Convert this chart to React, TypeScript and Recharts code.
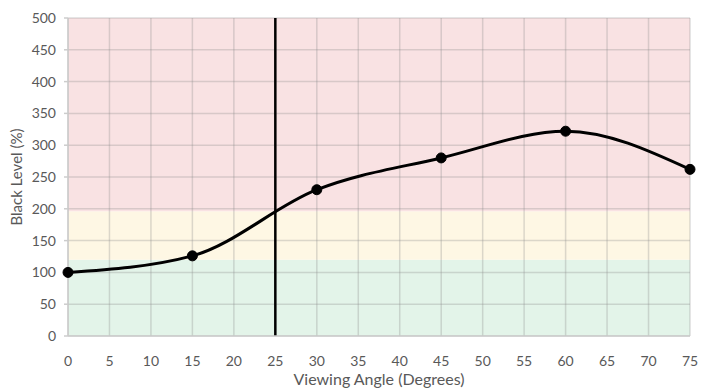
import React from 'react';
import { ComposedChart, Line, XAxis, YAxis, ReferenceArea, ReferenceLine, Label } from 'recharts';

const angles = [0, 15, 30, 45, 60, 75];
const blackLevel = [100, 126, 230, 280, 322, 262];
const xTicks = [0, 5, 10, 15, 20, 25, 30, 35, 40, 45, 50, 55, 60, 65, 70, 75];
const yTicks = [0, 50, 100, 150, 200, 250, 300, 350, 400, 450, 500];
const bands = [
  { from: 0, to: 120, color: '#e3f4e9' },
  { from: 120, to: 196, color: '#fef7e4' },
  { from: 196, to: 500, color: '#f9e2e3' },
];
const markerAngle = 25;

const data = angles.map((a, i) => ({ angle: a, value: blackLevel[i] }));

const font = 'Lato, "Open Sans", sans-serif';
const textColor = '#595959';
const gridColor = '#8c8c8c';
const gridOpacity = 0.3;

export default function App() {
  return (
    <div style={{ position: 'absolute', left: 0, top: 0, width: 717, height: 390, background: '#fff' }}>
      <ComposedChart width={717} height={390} data={data} margin={{ top: 18, right: 27, bottom: 0, left: 0 }}>
        {bands.map((b) => (
          <ReferenceArea key={b.from} y1={b.from} y2={b.to} fill={b.color} fillOpacity={1} stroke="none" ifOverflow="hidden" />
        ))}
        {xTicks.map((t) => (
          <ReferenceLine key={'vx' + t} x={t} stroke={gridColor} strokeOpacity={gridOpacity} strokeWidth={1.5} />
        ))}
        {yTicks.map((t) => (
          <ReferenceLine key={'hy' + t} y={t} stroke={gridColor} strokeOpacity={gridOpacity} strokeWidth={1.5} />
        ))}
        <XAxis
          xAxisId="top"
          orientation="top"
          dataKey="angle"
          type="number"
          domain={[0, 75]}
          ticks={xTicks}
          height={0}
          tickSize={4}
          axisLine={false}
          tickLine={{ stroke: '#d2d2d2', strokeWidth: 1.5 }}
          tickFormatter={() => ''}
        />
        <XAxis
          dataKey="angle"
          type="number"
          domain={[0, 75]}
          ticks={xTicks}
          tickSize={0}
          tickMargin={20}
          height={54}
          axisLine={{ stroke: '#cccccc', strokeWidth: 1.5 }}
          tick={{ fill: textColor, fontSize: 14, fontFamily: font }}
        >
          <Label value="Viewing Angle (Degrees)" position="insideBottom" offset={5} fill={textColor} fontSize={16} fontFamily={font} />
        </XAxis>
        <YAxis
          type="number"
          domain={[0, 500]}
          ticks={yTicks}
          width={68}
          tickSize={4}
          tickMargin={8}
          axisLine={{ stroke: '#cccccc', strokeWidth: 1.5 }}
          tickLine={{ stroke: '#cccccc', strokeWidth: 1.5 }}
          tick={{ fill: textColor, fontSize: 14, fontFamily: font }}
        >
          <Label value="Black Level (%)" angle={-90} position="insideLeft" offset={17} fill={textColor} fontSize={15} fontFamily={font} style={{ textAnchor: 'middle' }} />
        </YAxis>
        <ReferenceLine x={markerAngle} stroke="#000" strokeWidth={2.5} />
        <Line
          type="monotone"
          dataKey="value"
          stroke="#000"
          strokeWidth={3}
          dot={{ r: 5, fill: '#000', stroke: '#000', strokeWidth: 1 }}
          isAnimationActive={false}
        />
      </ComposedChart>
    </div>
  );
}
